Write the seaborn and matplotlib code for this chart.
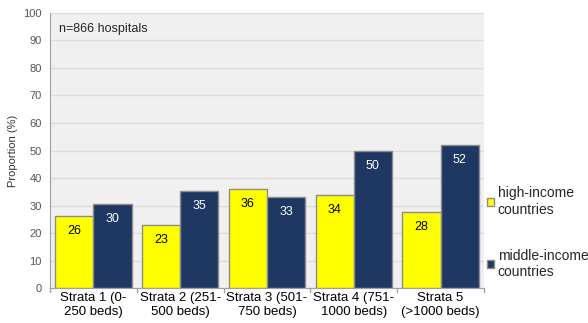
import matplotlib
matplotlib.use("Agg")
import matplotlib.pyplot as plt
import seaborn as sns
import pandas as pd
from matplotlib.patches import Patch

categories = ["Strata 1 (0-\n250 beds)", "Strata 2 (251-\n500 beds)", "Strata 3 (501-\n750 beds)",
              "Strata 4 (751-\n1000 beds)", "Strata 5\n(>1000 beds)"]
high_income = [26.3, 23.0, 35.9, 33.7, 27.5]
middle_income = [30.4, 35.3, 33.1, 49.8, 52.0]
series_names = ["high-income\ncountries", "middle-income\ncountries"]
colors = ["#FFFF00", "#1F3763"]

df = pd.DataFrame({
    "cat": categories * 2,
    "val": high_income + middle_income,
    "series": [series_names[0]] * 5 + [series_names[1]] * 5,
})

sns.set_style("white")
plt.rcParams['font.family'] = ['Liberation Sans', 'DejaVu Sans']

fig = plt.figure(figsize=(5.88, 3.23), dpi=100)
ax = fig.add_axes([0.085, 0.108, 0.738, 0.852])
ax.set_facecolor("#F0F0F0")
sns.barplot(data=df, x="cat", y="val", hue="series", palette=colors, ax=ax,
            width=0.88, edgecolor="#8C8C8C", linewidth=1, legend=False, saturation=1)

for cont, tc in zip(ax.containers, ["black", "white"]):
    ax.bar_label(cont, fmt="%.0f", padding=-15, color=tc, fontsize=9)

ax.set_ylim(0, 100)
ax.set_xlim(-0.5, 4.5)
ax.set_yticks(range(0, 101, 10))
ax.yaxis.grid(True, color="#DCDCDC", linewidth=1)
ax.set_axisbelow(True)
for s in ["top", "right"]:
    ax.spines[s].set_visible(False)
for s in ["left", "bottom"]:
    ax.spines[s].set_color("#A0A0A0")
ax.tick_params(axis="y", labelsize=8, colors="#555555", length=0, pad=6)
ax.tick_params(axis="x", labelsize=9.5, length=0, pad=3)
for lab in ax.get_xticklabels():
    lab.set_color("black")
for i in range(6):
    ax.plot([i - 0.5, i - 0.5], [0, -1.5], color="#A0A0A0", lw=1, clip_on=False)
ax.set_xlabel("")
ax.set_ylabel("Proportion (%)", fontsize=8, color="#333333", labelpad=4)
ax.text(0.02, 0.965, "n=866 hospitals", transform=ax.transAxes, fontsize=9, va="top", ha="left")

handles = [Patch(facecolor=c, edgecolor="#8C8C8C") for c in colors]
fig.legend(handles, series_names, loc="center left", bbox_to_anchor=(0.823, 0.28), frameon=False,
           fontsize=10, handlelength=0.55, handleheight=0.55, handletextpad=0.25, labelspacing=2.3,
           borderaxespad=0, borderpad=0.2)

fig.savefig("out.png", dpi=100, facecolor="white")
